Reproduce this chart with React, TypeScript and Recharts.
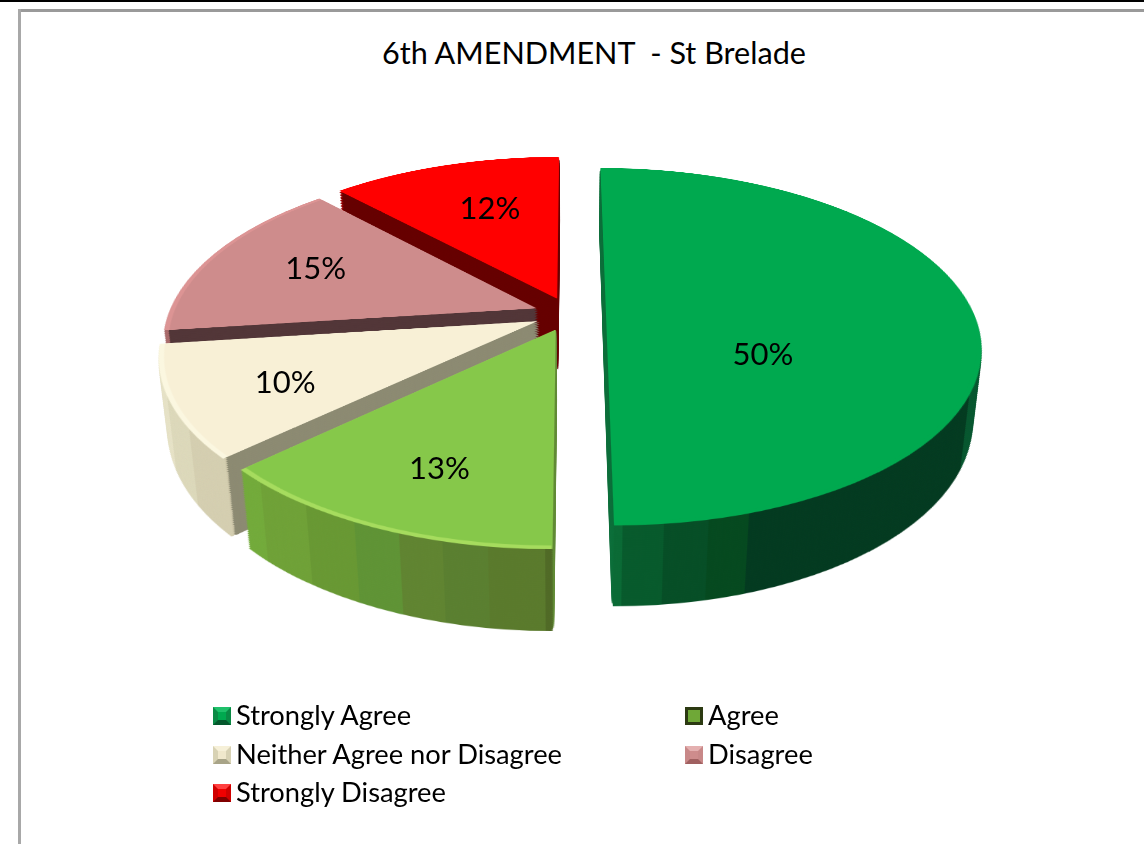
import { PieChart, Pie, Cell, Legend } from "recharts";

const categories = [
    "Strongly Agree",
    "Agree",
    "Neither Agree nor Disagree",
    "Disagree",
    "Strongly Disagree",
];
const percents = [50, 13, 10, 15, 12];

const topColors = ["#00a94f", "#86c84a", "#f8f0d6", "#ce8c8c", "#ff0000"];
const bevelColors = ["#00a94f", "#a6dc5e", "#fbf7e0", "#dc9494", "#ff0000"];
const cutColors = ["#0a6e38", "#5f8a33", "#8c8a72", "#523638", "#660000"];
const rimColors = ["url(#rim0)", "url(#rim1)", "url(#rim2)", "#a86a6a", "#a00000"];

const tableData = categories.map((name, i) => ({ name, value: percents[i] }));

// pie geometry, worked out from the tilted ellipse in the picture
const SIZE = 1000;
const MID = SIZE / 2;
const RADIUS = 368;
const EXPLODE = 36;
const PERSPECTIVE = 1776;
const TILT = 62;
const DEPTH = 82;
const STEP = 2;
const CENTER_X = 570;
const CENTER_Y = 314;

const LABEL_NUDGE = [
    [-22, 39],
    [-36, 50],
    [-81, 22],
    [-59, -14],
    [-8, -22],
];

// rim shading comes in flat bands: [plane x where the band ends, colour]
const rimBands: [string, number, [number, string][]][] = [
    ["rim0", 533, [[543, "#0a6a35"], [577, "#075a2c"], [614, "#064e26"], [648, "#05491f"], [868, "#033a20"], [900, "#06562e"]]],
    ["rim1", 224, [[237, "#72aa3a"], [280, "#6fa137"], [323, "#689833"], [361, "#5f9335"], [397, "#608431"], [434, "#5a7f30"], [480, "#5a7a2c"], [495, "#506a26"]]],
    ["rim2", 112, [[129, "#e6e2c6"], [160, "#dcd8ba"], [200, "#d4ceb0"], [260, "#cfc8aa"]]],
];

const total = percents.reduce((a, b) => a + b, 0);
const offsets = percents.map((p, i) => {
    const before = percents.slice(0, i).reduce((a, b) => a + b, 0);
    const mid = ((before + p / 2) / total) * 2 * Math.PI;
    return [Math.sin(mid) * EXPLODE, -Math.cos(mid) * EXPLODE];
});

const slicePies = (colors: string[], radius: number, prefix: string, edge = false) =>
    categories.map((_, i) => (
        <Pie
            key={prefix + i}
            data={tableData}
            dataKey="value"
            nameKey="name"
            cx={MID + offsets[i][0]}
            cy={MID + offsets[i][1]}
            outerRadius={radius}
            startAngle={90}
            endAngle={-270}
            stroke="none"
            isAnimationActive={false}
            legendType="none"
        >
            {categories.map((c, j) => (
                <Cell
                    key={c}
                    fill={j === i ? colors[i] : "none"}
                    stroke={j === i && edge ? colors[i] : "none"}
                    strokeWidth={edge ? 1.5 : 0}
                />
            ))}
        </Pie>
    ));

const layerDepths: number[] = [];
for (let z = DEPTH; z > 0; z -= STEP) layerDepths.push(z);

const Layer = ({ z, top }: { z: number; top?: boolean }) => (
    <div
        style={{
            position: "absolute",
            left: CENTER_X - MID,
            top: CENTER_Y - MID,
            width: SIZE,
            height: SIZE,
            transform: `perspective(${PERSPECTIVE}px) rotateX(${TILT}deg) translateZ(${-z}px)`,
        }}
    >
        <PieChart width={SIZE} height={SIZE} margin={{ top: 0, right: 0, bottom: 0, left: 0 }}>
            {top
                ? [...slicePies(bevelColors, RADIUS, "bevel"), ...slicePies(topColors, RADIUS - 5, "top")]
                : [...slicePies(rimColors, RADIUS, "rim"), ...slicePies(cutColors, RADIUS - 5, "cut", true)]}
        </PieChart>
    </div>
);

const renderLabel = (props: any) => {
    const { cx, cy, midAngle, outerRadius, value, index } = props;
    const rad = (midAngle * Math.PI) / 180;
    const px = Math.cos(rad) * (outerRadius * 0.5 + EXPLODE - 5);
    const py = -Math.sin(rad) * (outerRadius * 0.5 + EXPLODE - 5);
    const t = (TILT * Math.PI) / 180;
    const s = PERSPECTIVE / (PERSPECTIVE - py * Math.sin(t));
    return (
        <text
            x={cx + px * s + LABEL_NUDGE[index][0]}
            y={cy + py * Math.cos(t) * s + LABEL_NUDGE[index][1]}
            textAnchor="middle"
            dominantBaseline="central"
            fontFamily="Lato"
            fontSize={31}
            fill="#000"
        >
            {value}%
        </text>
    );
};

// top, right, bottom, left, centre, border width
const swatches: [string, string, string, string, string, number][] = [
    ["#1fc06a", "#0a8a45", "#04582c", "#0a8a45", "#00a94f", 5],
    ["#2c3a12", "#2c3a12", "#2c3a12", "#2c3a12", "#6fa837", 3],
    ["#f6f0d8", "#d8d2b4", "#a8a488", "#d8d2b4", "#f0e8cc", 5],
    ["#e4b0b0", "#c88888", "#a06060", "#c88888", "#ce8c8c", 5],
    ["#ff4040", "#d00000", "#800000", "#d00000", "#f00000", 5],
];

const legendSpots = [
    [213, 707],
    [685, 707],
    [213, 746],
    [685, 746],
    [213, 784],
];

const renderLegend = () => (
    <div style={{ position: "relative", width: 1144, height: 844 }}>
        {categories.map((name, i) => {
            const b = swatches[i];
            return (
                <div key={name}>
                    <div
                        style={{
                            position: "absolute",
                            left: legendSpots[i][0],
                            top: legendSpots[i][1],
                            width: 18 - 2 * b[5],
                            height: 18 - 2 * b[5],
                            borderStyle: "solid",
                            borderWidth: b[5],
                            borderColor: `${b[0]} ${b[1]} ${b[2]} ${b[3]}`,
                            background: b[4],
                        }}
                    />
                    <div
                        style={{
                            position: "absolute",
                            left: legendSpots[i][0] + 23,
                            top: legendSpots[i][1] - 9,
                            lineHeight: "34px",
                            fontFamily: "Lato",
                            fontSize: 27.3,
                            color: "#000",
                            whiteSpace: "nowrap",
                        }}
                    >
                        {name}
                    </div>
                </div>
            );
        })}
    </div>
);

export default function App() {
    return (
        <div
            style={{
                position: "absolute",
                left: 0,
                top: 0,
                width: 1144,
                height: 844,
                overflow: "hidden",
                background: "#fff",
                filter: "blur(0.5px)",
            }}
        >
            <svg width={0} height={0} style={{ position: "absolute" }}>
                <defs>
                    {rimBands.map(([id, start, bands]) => {
                        const end = bands[bands.length - 1][0];
                        const at = (x: number) => `${((x - start) / (end - start)) * 100}%`;
                        return (
                            <linearGradient key={id} id={id} gradientUnits="userSpaceOnUse" x1={start} y1={0} x2={end} y2={0}>
                                {bands.flatMap(([x, color], i) => [
                                    <stop key={i + "a"} offset={at(i === 0 ? start : bands[i - 1][0])} stopColor={color} />,
                                    <stop key={i + "b"} offset={at(x)} stopColor={color} />,
                                ])}
                            </linearGradient>
                        );
                    })}
                </defs>
            </svg>

            <div style={{ position: "absolute", left: 0, top: 0, width: 1144, height: 2, background: "#000" }} />
            <div style={{ position: "absolute", left: 18, top: 9, width: 1126, height: 3, background: "#9a9a9a" }} />
            <div style={{ position: "absolute", left: 18, top: 9, width: 3, height: 835, background: "#a8a8a8" }} />

            <div
                style={{
                    position: "absolute",
                    left: 294,
                    width: 600,
                    top: 33,
                    textAlign: "center",
                    fontFamily: "Lato",
                    fontSize: 30.6,
                    lineHeight: "40px",
                    color: "#000",
                    whiteSpace: "pre",
                }}
            >
                6th AMENDMENT  - St Brelade
            </div>

            {layerDepths.map((z) => (
                <Layer key={z} z={z} />
            ))}
            <Layer z={0} top />

            <div style={{ position: "absolute", left: 0, top: 0 }}>
                <PieChart width={1144} height={844} margin={{ top: 0, right: 0, bottom: 0, left: 0 }}>
                    <Pie
                        data={tableData}
                        dataKey="value"
                        nameKey="name"
                        cx={CENTER_X}
                        cy={CENTER_Y}
                        outerRadius={RADIUS}
                        startAngle={90}
                        endAngle={-270}
                        fill="none"
                        stroke="none"
                        label={renderLabel}
                        labelLine={false}
                        isAnimationActive={false}
                    />
                    <Legend
                        content={renderLegend}
                        wrapperStyle={{ left: 0, top: 0, width: 1144, height: 844 }}
                    />
                </PieChart>
            </div>
        </div>
    );
}
